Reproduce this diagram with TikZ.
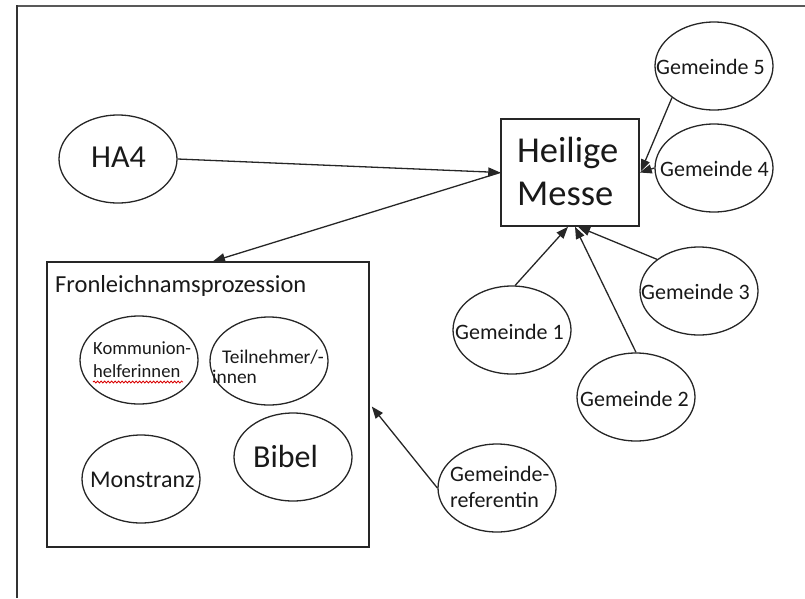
\documentclass[tikz,border=0pt]{standalone}
\usepackage{fontspec}
\setmainfont{Carlito}
\usetikzlibrary{shapes.geometric,arrows.meta,calc,decorations.pathmorphing}
\newcommand\txtsize[1]{\fontsize{#1}{#1}\selectfont}
\begin{document}
\begin{tikzpicture}[x=1pt,y=-1pt,
  ink/.style={draw=black!85, line width=1.3pt},
  blob/.style={ink, ellipse, minimum width=118pt, minimum height=88pt, inner sep=0pt},
  boxnode/.style={draw=black!85, line width=1.5pt, rectangle, inner sep=0pt},
  lbl/.style={anchor=base west, inner sep=0pt, text=black!90},
  conn/.style={draw=black!85, line width=1.3pt, -{Triangle[length=12pt,width=9pt]}},
]
\useasboundingbox (0,0) rectangle (805,598);

% page frame
\draw[line width=2.5pt, draw=black!65] (16,6) -- (805,6);
\draw[line width=2pt, draw=black!80] (17,5) -- (17,598);

% main boxes
\node[boxnode, minimum width=138pt, minimum height=107pt] (messe) at (570,172.5) {};
\node[boxnode, minimum width=322pt, minimum height=285pt] (fron) at (208,404.5) {};

% ellipses
\node[blob] (ha4) at (118,159) {};
\node[blob] (g5) at (714,66) {};
\node[blob] (g4) at (714,168) {};
\node[blob] (g3) at (699,291) {};
\node[blob] (g1) at (512,330) {};
\node[blob] (g2) at (636,397) {};
\node[blob] (ref) at (497,488) {};
\node[blob] (komm) at (139,360) {};
\node[blob] (teil) at (269,361) {};
\node[blob] (mon) at (141,479) {};
\node[blob] (bib) at (293,457) {};

% texts
\node[lbl] (t-heilige) at (517,162) {\txtsize{36.5}Heilige};
\node[lbl] (t-messe) at (517,205) {\txtsize{36.5}Messe};
\node[lbl] (t-fron) at (55,292) {\txtsize{24.5}Fronleichnamsprozession};
\node[lbl] (t-ha4) at (91,167) {\txtsize{32}HA4};
\node[lbl] (t-g5) at (656,74) {\txtsize{22}Gemeinde 5};
\node[lbl] (t-g4) at (660,176) {\txtsize{22}Gemeinde 4};
\node[lbl] (t-g3) at (641,299) {\txtsize{22}Gemeinde 3};
\node[lbl] (t-g1) at (455,339) {\txtsize{22}Gemeinde 1};
\node[lbl] (t-g2) at (580,406) {\txtsize{22}Gemeinde 2};
\node[lbl] (t-ref1) at (450,481) {\txtsize{22}Gemeinde-};
\node[lbl] (t-ref2) at (450,507) {\txtsize{22}referentin};
\node[lbl] (t-komm1) at (93,354) {\txtsize{18.6}Kommunion-};
\node[lbl] (t-komm2) at (93,377) {\txtsize{18.6}helferinnen};
\node[lbl] (t-teil1) at (222,363) {\txtsize{19.4}Teilnehmer/-};
\node[lbl] (t-teil2) at (212,383) {\txtsize{19.4}innen};
\node[lbl] (t-mon) at (90,487) {\txtsize{24}Monstranz};
\node[lbl] (t-bib) at (253,467) {\txtsize{32}Bibel};

% spell-check squiggle
\draw[red!85!black, line width=0.8pt, decorate,
      decoration={snake, amplitude=1pt, segment length=3.5pt}]
  (93,382) -- (183,382);

% connectors
\draw[conn] (ha4.east) -- (messe.west);
\draw[conn] (messe.west) -- ($(fron.north)+(5,0)$);
\draw[conn] (g5.217) -- ($(messe.east)+(1,-1)$);
\draw[conn] (g4.west) -- (messe.east);
\draw[conn] (g1.86) -- ($(messe.south)+(-2,0)$);
\draw[conn] (g2.north) -- ($(messe.south)+(5,0)$);
\draw[conn] (g3.143) -- ($(messe.south)+(8,0)$);
\draw[conn] (ref.west) -- ($(fron.east)+(2,2)$);
\end{tikzpicture}
\end{document}
